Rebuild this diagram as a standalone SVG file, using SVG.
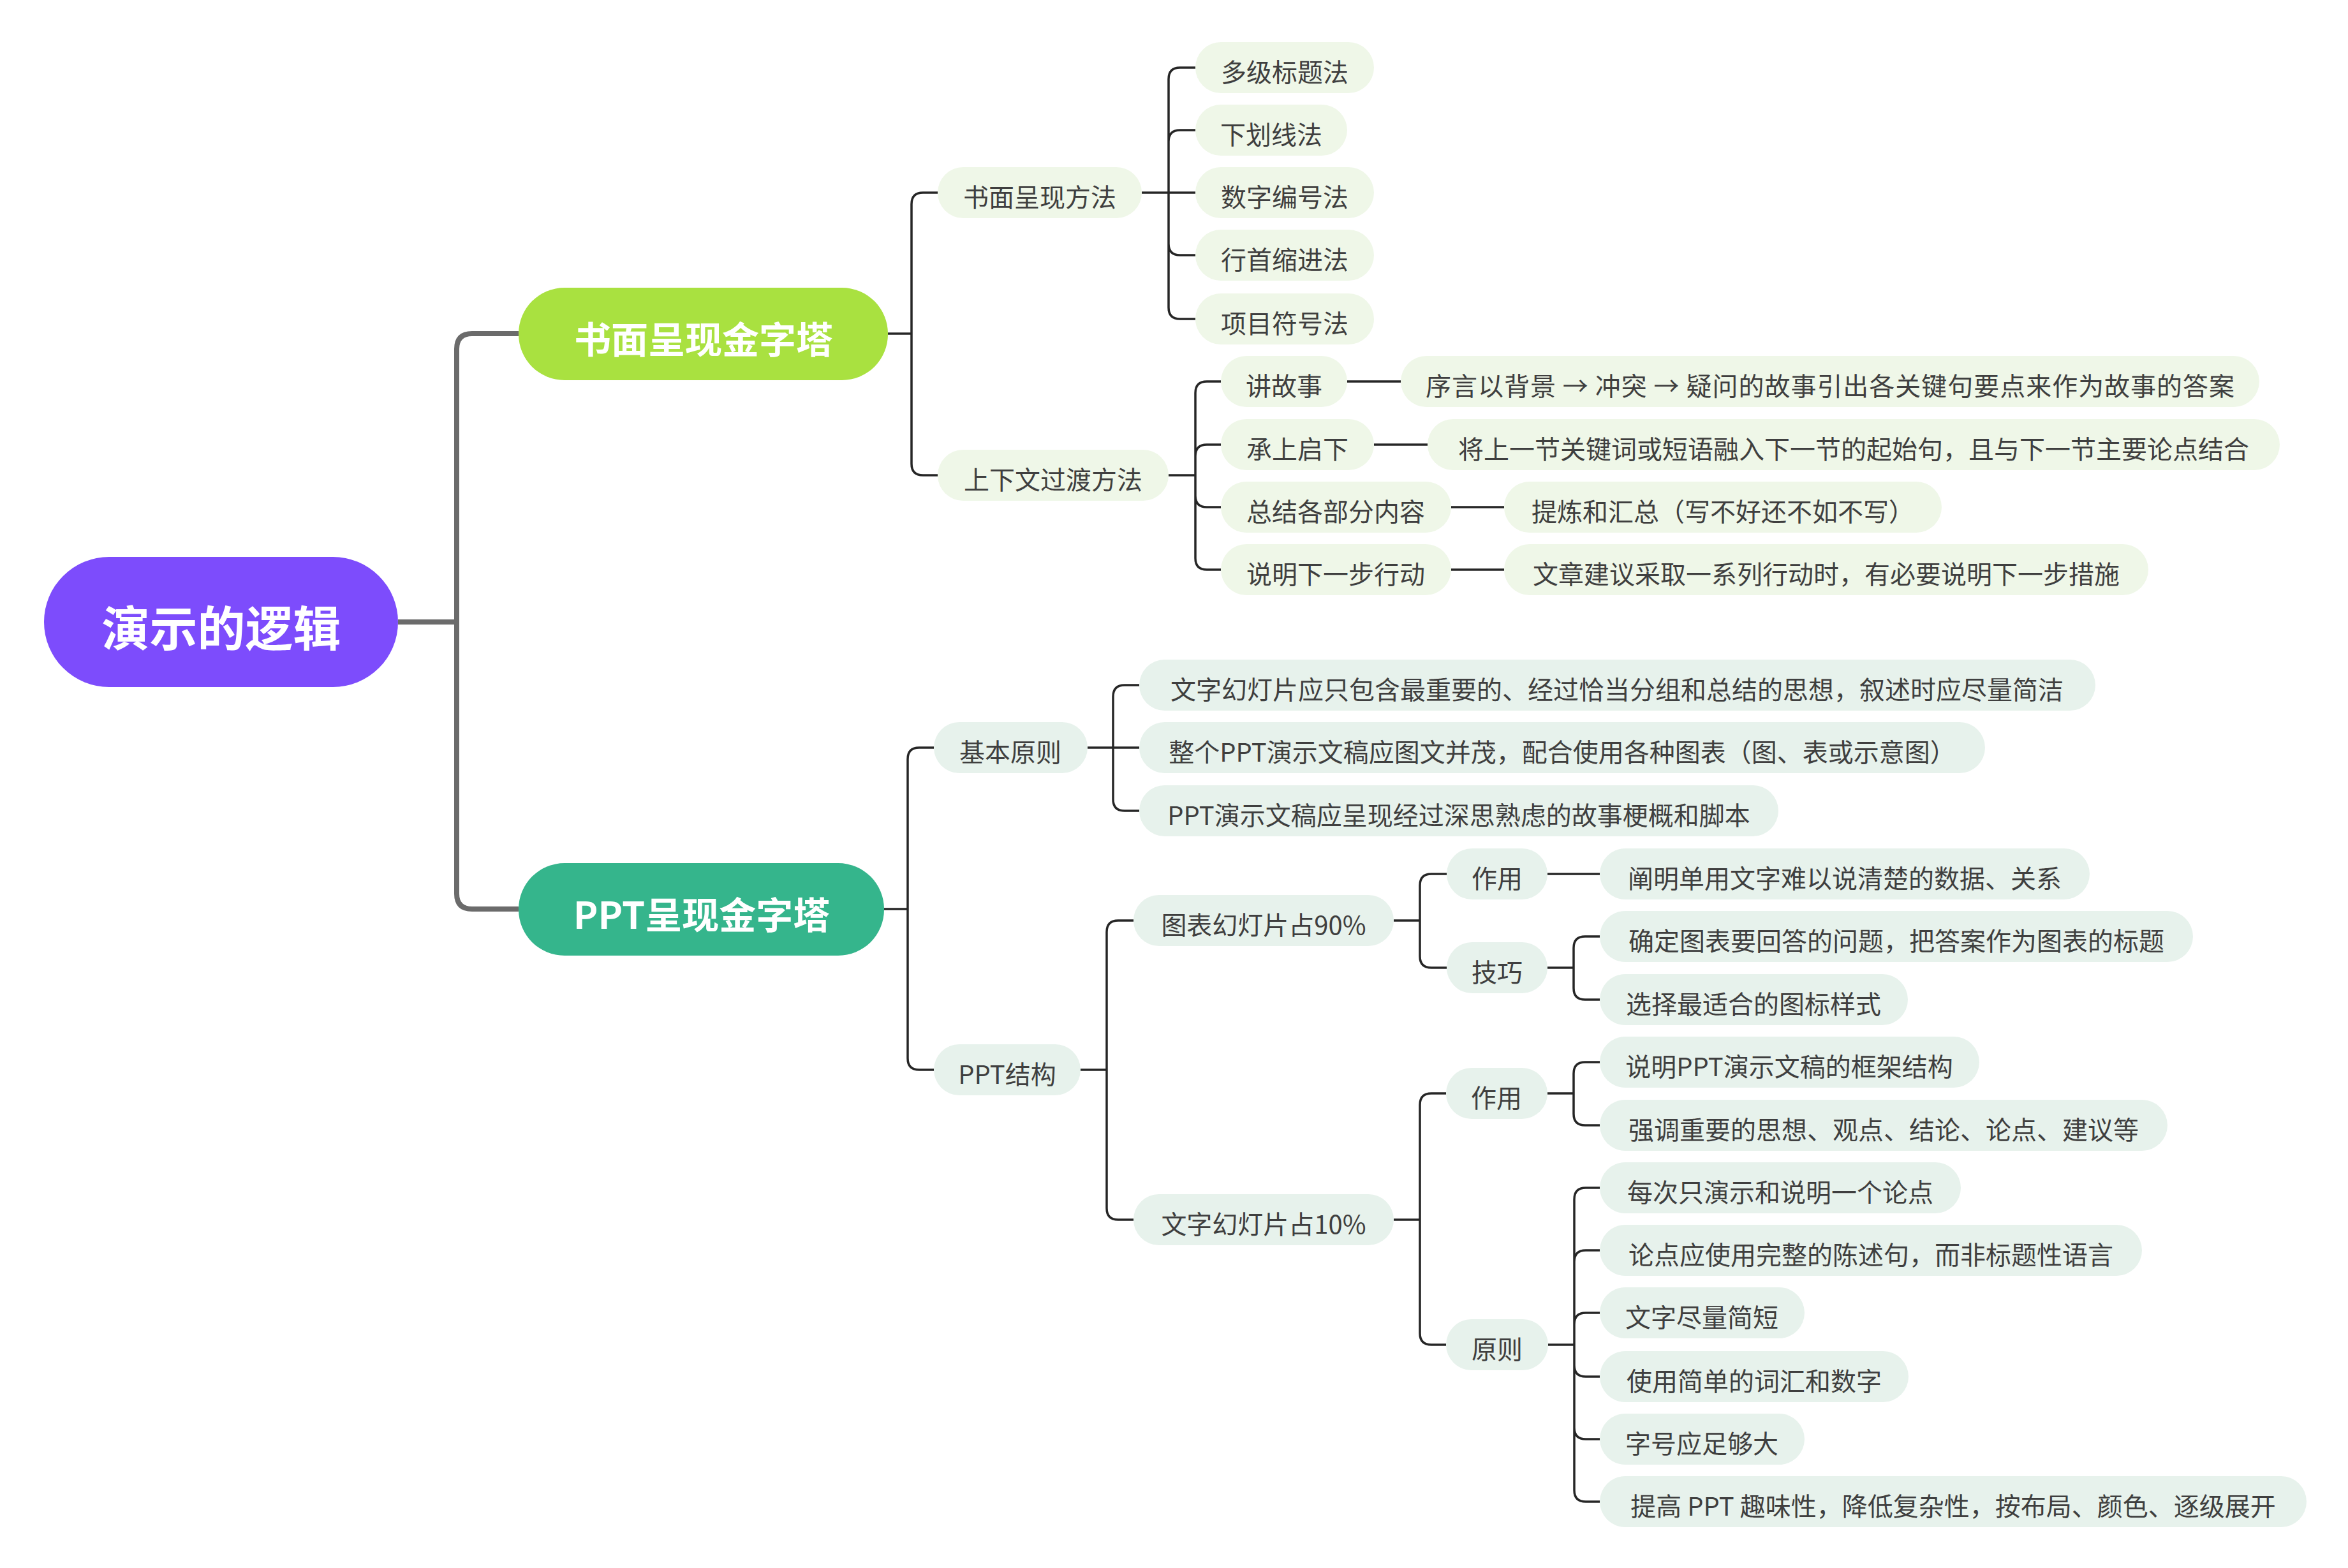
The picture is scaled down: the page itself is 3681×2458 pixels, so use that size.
<svg xmlns="http://www.w3.org/2000/svg" width="3681" height="2458" viewBox="0 0 3681 2458">
<style>
text{font-family:"Noto Sans CJK SC","Noto Sans",sans-serif;text-anchor:middle;dominant-baseline:central}
.t{font-size:40px;fill:#3f3f3f}
.a rect{fill:#EFF7E8}
.b rect{fill:#E7F2EC}
.h{font-weight:700;fill:#ffffff}
.thin{fill:none;stroke:#262626;stroke-width:3.5}
.thick{fill:none;stroke:#6b6b6b;stroke-width:8}
</style>
<rect width="3681" height="2458" fill="#ffffff"/>
<g id="connectors">
<path class="thick" d="M624,975 H716 M716,975 V547 Q716,523 740,523 H813 M716,975 V1401 Q716,1425 740,1425 H813"/>
<path class="thin" d="M1392,523 H1429 M1429,523 V320 Q1429,302 1447,302 H1470 M1429,523 V727 Q1429,745 1447,745 H1470"/>
<path class="thin" d="M1790,302 H1874 M1832,302 V124 Q1832,106 1850,106 H1874 M1832,302 V222 Q1832,204 1850,204 H1874 M1832,302 V382 Q1832,400 1850,400 H1874 M1832,302 V482 Q1832,500 1850,500 H1874"/>
<path class="thin" d="M1832,745 H1874 M1874,745 V616 Q1874,598 1892,598 H1914 M1874,745 V715 Q1874,697 1892,697 H1914 M1874,745 V777 Q1874,795 1892,795 H1914 M1874,745 V875 Q1874,893 1892,893 H1914"/>
<path class="thin" d="M2112,598 H2196 M2154,697 H2238 M2275,795 H2358 M2275,893 H2358"/>
<path class="thin" d="M1386,1425 H1423 M1423,1425 V1190 Q1423,1172 1441,1172 H1464 M1423,1425 V1659 Q1423,1677 1441,1677 H1464"/>
<path class="thin" d="M1705,1172 H1786 M1745,1172 V1092 Q1745,1074 1763,1074 H1786 M1745,1172 V1253 Q1745,1271 1763,1271 H1786"/>
<path class="thin" d="M1694,1677 H1735 M1735,1677 V1461 Q1735,1443 1753,1443 H1777 M1735,1677 V1894 Q1735,1912 1753,1912 H1777"/>
<path class="thin" d="M2185,1443 H2226 M2226,1443 V1388 Q2226,1370 2244,1370 H2268 M2226,1443 V1499 Q2226,1517 2244,1517 H2268"/>
<path class="thin" d="M2426,1370 H2508 M2426,1517 H2467 M2467,1517 V1486 Q2467,1468 2485,1468 H2508 M2467,1517 V1549 Q2467,1567 2485,1567 H2508"/>
<path class="thin" d="M2185,1912 H2226 M2226,1912 V1732 Q2226,1714 2244,1714 H2267 M2226,1912 V2090 Q2226,2108 2244,2108 H2267"/>
<path class="thin" d="M2426,1714 H2467 M2467,1714 V1683 Q2467,1665 2485,1665 H2508 M2467,1714 V1746 Q2467,1764 2485,1764 H2508"/>
<path class="thin" d="M2427,2108 H2468 M2468,2108 V1880 Q2468,1862 2486,1862 H2508 M2468,2108 V1978 Q2468,1960 2486,1960 H2508 M2468,2108 V2076 Q2468,2058 2486,2058 H2508 M2468,2108 V2140 Q2468,2158 2486,2158 H2508 M2468,2108 V2238 Q2468,2256 2486,2256 H2508 M2468,2108 V2336 Q2468,2354 2486,2354 H2508"/>
</g>
<g id="root"><rect x="69" y="873" width="555" height="204" rx="102" fill="#7D4CFC"/><text class="h" x="347" y="980" font-size="75">演示的逻辑</text></g>
<g id="n-a"><rect x="813" y="451" width="579" height="145" rx="72" fill="#A9E140"/><text class="h" x="1103" y="529" font-size="58">书面呈现金字塔</text></g>
<g id="n-b"><rect x="813" y="1353" width="573" height="145" rx="72" fill="#35B58C"/><text class="h" x="1100" y="1431" font-size="58">PPT呈现金字塔</text></g>
<g class="a">
<g id="a1"><rect x="1470" y="262" width="320" height="80" rx="40"/><text class="t" x="1630" y="307">书面呈现方法</text></g>
<g id="a1-1"><rect x="1874" y="66" width="280" height="80" rx="40"/><text class="t" x="2014" y="111">多级标题法</text></g>
<g id="a1-2"><rect x="1874" y="164" width="238" height="80" rx="40"/><text class="t" x="1993" y="209">下划线法</text></g>
<g id="a1-3"><rect x="1874" y="262" width="280" height="80" rx="40"/><text class="t" x="2014" y="307">数字编号法</text></g>
<g id="a1-4"><rect x="1874" y="360" width="280" height="80" rx="40"/><text class="t" x="2014" y="405">行首缩进法</text></g>
<g id="a1-5"><rect x="1874" y="460" width="280" height="80" rx="40"/><text class="t" x="2014" y="505">项目符号法</text></g>
<g id="a2"><rect x="1470" y="705" width="362" height="80" rx="40"/><text class="t" x="1651" y="750">上下文过渡方法</text></g>
<g id="a2-1"><rect x="1914" y="558" width="198" height="80" rx="40"/><text class="t" x="2013" y="603">讲故事</text></g>
<g id="a2-1-1"><rect x="2196" y="558" width="1346" height="80" rx="40"/><text class="t" x="2869" y="603" textLength="1268">序言以背景 → 冲突 → 疑问的故事引出各关键句要点来作为故事的答案</text></g>
<g id="a2-2"><rect x="1914" y="657" width="240" height="80" rx="40"/><text class="t" x="2034" y="702">承上启下</text></g>
<g id="a2-2-1"><rect x="2238" y="657" width="1336" height="80" rx="40"/><text class="t" x="2906" y="702">将上一节关键词或短语融入下一节的起始句，且与下一节主要论点结合</text></g>
<g id="a2-3"><rect x="1914" y="755" width="361" height="80" rx="40"/><text class="t" x="2094" y="800">总结各部分内容</text></g>
<g id="a2-3-1"><rect x="2358" y="755" width="686" height="80" rx="40"/><text class="t" x="2701" y="800">提炼和汇总（写不好还不如不写）</text></g>
<g id="a2-4"><rect x="1914" y="853" width="361" height="80" rx="40"/><text class="t" x="2094" y="898">说明下一步行动</text></g>
<g id="a2-4-1"><rect x="2358" y="853" width="1010" height="80" rx="40"/><text class="t" x="2863" y="898">文章建议采取一系列行动时，有必要说明下一步措施</text></g>
</g>
<g class="b">
<g id="b1"><rect x="1464" y="1132" width="241" height="80" rx="40"/><text class="t" x="1584" y="1177">基本原则</text></g>
<g id="b1-1"><rect x="1786" y="1034" width="1499" height="80" rx="40"/><text class="t" x="2535" y="1079">文字幻灯片应只包含最重要的、经过恰当分组和总结的思想，叙述时应尽量简洁</text></g>
<g id="b1-2"><rect x="1786" y="1132" width="1326" height="80" rx="40"/><text class="t" x="2449" y="1177">整个PPT演示文稿应图文并茂，配合使用各种图表（图、表或示意图）</text></g>
<g id="b1-3"><rect x="1786" y="1231" width="1002" height="80" rx="40"/><text class="t" x="2287" y="1276">PPT演示文稿应呈现经过深思熟虑的故事梗概和脚本</text></g>
<g id="b2"><rect x="1464" y="1637" width="230" height="80" rx="40"/><text class="t" x="1579" y="1682">PPT结构</text></g>
<g id="b2-1"><rect x="1777" y="1403" width="408" height="80" rx="40"/><text class="t" x="1981" y="1448">图表幻灯片占90%</text></g>
<g id="b2-1-1"><rect x="2268" y="1330" width="158" height="80" rx="40"/><text class="t" x="2347" y="1375">作用</text></g>
<g id="b2-1-1-1"><rect x="2508" y="1330" width="768" height="80" rx="40"/><text class="t" x="2892" y="1375">阐明单用文字难以说清楚的数据、关系</text></g>
<g id="b2-1-2"><rect x="2268" y="1477" width="158" height="80" rx="40"/><text class="t" x="2347" y="1522">技巧</text></g>
<g id="b2-1-2-1"><rect x="2508" y="1428" width="930" height="80" rx="40"/><text class="t" x="2973" y="1473">确定图表要回答的问题，把答案作为图表的标题</text></g>
<g id="b2-1-2-2"><rect x="2508" y="1527" width="483" height="80" rx="40"/><text class="t" x="2749" y="1572">选择最适合的图标样式</text></g>
<g id="b2-2"><rect x="1777" y="1872" width="408" height="80" rx="40"/><text class="t" x="1981" y="1917">文字幻灯片占10%</text></g>
<g id="b2-2-1"><rect x="2267" y="1674" width="159" height="80" rx="40"/><text class="t" x="2346" y="1719">作用</text></g>
<g id="b2-2-1-1"><rect x="2508" y="1625" width="595" height="80" rx="40"/><text class="t" x="2805" y="1670">说明PPT演示文稿的框架结构</text></g>
<g id="b2-2-1-2"><rect x="2508" y="1724" width="890" height="80" rx="40"/><text class="t" x="2953" y="1769">强调重要的思想、观点、结论、论点、建议等</text></g>
<g id="b2-2-2"><rect x="2267" y="2068" width="160" height="80" rx="40"/><text class="t" x="2347" y="2113">原则</text></g>
<g id="b2-2-2-1"><rect x="2508" y="1822" width="566" height="80" rx="40"/><text class="t" x="2791" y="1867">每次只演示和说明一个论点</text></g>
<g id="b2-2-2-2"><rect x="2508" y="1920" width="850" height="80" rx="40"/><text class="t" x="2933" y="1965">论点应使用完整的陈述句，而非标题性语言</text></g>
<g id="b2-2-2-3"><rect x="2508" y="2018" width="321" height="80" rx="40"/><text class="t" x="2668" y="2063">文字尽量简短</text></g>
<g id="b2-2-2-4"><rect x="2508" y="2118" width="484" height="80" rx="40"/><text class="t" x="2750" y="2163">使用简单的词汇和数字</text></g>
<g id="b2-2-2-5"><rect x="2508" y="2216" width="321" height="80" rx="40"/><text class="t" x="2668" y="2261">字号应足够大</text></g>
<g id="b2-2-2-6"><rect x="2508" y="2314" width="1108" height="80" rx="40"/><text class="t" x="3062" y="2359">提高 PPT 趣味性，降低复杂性，按布局、颜色、逐级展开</text></g>
</g>
</svg>
